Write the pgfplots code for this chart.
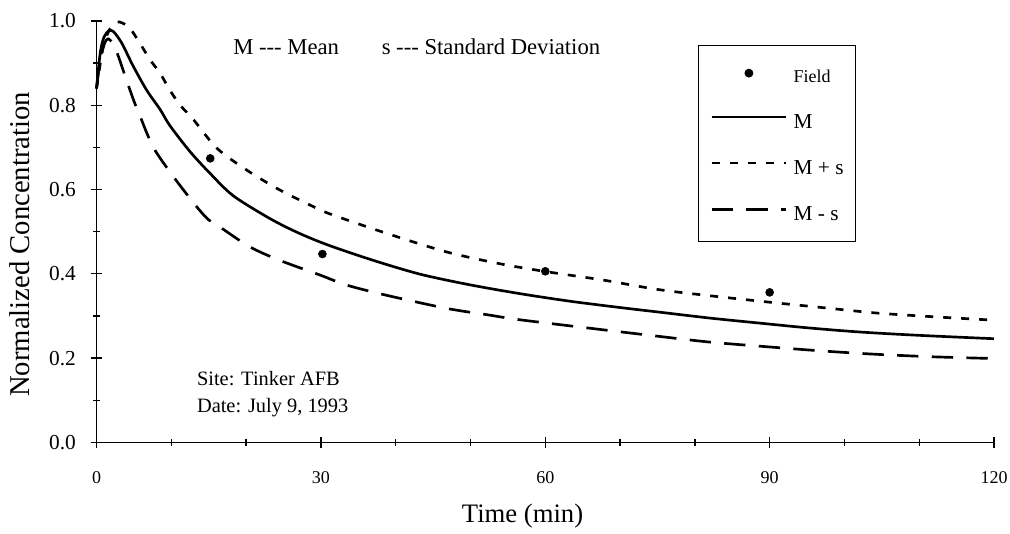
\documentclass[border=0pt]{standalone}
\usepackage{fontspec}
\setmainfont{Liberation Serif}
\usepackage{pgfplots}
\pgfplotsset{compat=1.18}
\usetikzlibrary{calc}
\pgfplotsset{
  lineleg/.style={legend image code/.code={\path (0pt,0pt) (56pt,8pt); \draw[##1] (0pt,4pt) -- (56pt,4pt);}},
  dotleg/.style={legend image code/.code={\path (0pt,0pt) (56pt,8pt); \draw[##1] plot coordinates {(28pt,2.5pt)};}},
}

\begin{document}
\begin{tikzpicture}
\begin{axis}[
  scale only axis,
  width=673pt, height=316pt,
  xmin=0, xmax=120, ymin=0, ymax=1.0,
  axis lines=left,
  axis line style={-, line width=1.3pt},
  clip=false,
  xtick={0,30,60,90,120},
  ytick={0,0.2,0.4,0.6,0.8,1.0},
  minor x tick num=2,
  minor y tick num=1,
  tick align=center,
  major tick length=8pt,
  minor tick length=5pt,
  tick style={line width=1pt, black},
  /pgf/number format/assume math mode=true,
  yticklabel style={/pgf/number format/fixed, /pgf/number format/fixed zerofill, /pgf/number format/precision=1, font=\fontsize{16}{18}\selectfont, xshift=-8pt},
  xticklabel style={font=\fontsize{13.5}{15}\selectfont, yshift=-14pt},
  xlabel={Time (min)},
  ylabel={Normalized Concentration},
  xlabel style={font=\fontsize{20}{24}\selectfont, at={(axis description cs:0.4747,-0.176)}, anchor=center},
  ylabel style={font=\fontsize{21.5}{24}\selectfont, at={(axis description cs:-0.0853,0.47)}, anchor=center},
  legend style={at={(axis cs:80.4,0.943)}, anchor=north west, draw=black, line width=0.6pt,
    inner xsep=9pt, inner ysep=15pt, row sep=20pt, column sep=4.5pt,
    font=\fontsize{16}{18}\selectfont,
    nodes={inner xsep=0pt, inner ysep=0pt, text height=10pt, text depth=1pt}},
  legend cell align=left,
]
\addplot[only marks, mark=*, mark size=3pt, black, dotleg]
  coordinates {(15.2,0.674) (30.2,0.447) (60,0.406) (90,0.356)};
\addlegendentry{\fontsize{13.5}{15}\selectfont Field}

\addplot[black, line width=2pt, smooth, tension=0.5, lineleg]
  coordinates {(0,0.84) (0.5,0.925) (1,0.962) (1.65,0.977) (2.25,0.975) (3,0.958) (3.6,0.94) (4.9,0.893) (6.7,0.836) (8.5,0.79) (9.8,0.752) (12.5,0.69) (15.2,0.638) (18.3,0.585) (23.2,0.531) (27,0.497) (31,0.468) (37,0.432) (43.3,0.399) (49.9,0.374) (56.6,0.353) (63.3,0.335) (70,0.320) (75.3,0.309) (82,0.295) (88.7,0.283) (95,0.272) (102,0.262) (110,0.254) (120,0.246)};
\addlegendentry{M}

\addplot[black, line width=2pt, dash pattern=on 6pt off 7.5pt, smooth, tension=0.5, lineleg]
  coordinates {(0,0.84) (0.8,0.93) (1.6,0.975) (2.6,0.997) (3.5,0.995) (4.5,0.982) (5.8,0.947) (7.2,0.907) (8.5,0.876) (9.8,0.836) (11.2,0.80) (13,0.765) (16.1,0.698) (20.1,0.646) (24.5,0.599) (29.4,0.556) (31.7,0.539) (38.8,0.496) (46.8,0.452) (53.9,0.424) (60.2,0.405) (67.8,0.385) (75,0.363) (82,0.348) (90.9,0.331) (97,0.32) (104.3,0.307) (112,0.298) (120,0.290)};
\addlegendentry{M + s}

\addplot[black, line width=2pt, dash pattern=on 16pt off 10pt, smooth, tension=0.5, lineleg]
  coordinates {(0,0.84) (0.6,0.92) (1.3,0.955) (1.8,0.955) (2.4,0.94) (3.1,0.907) (4,0.86) (5,0.81) (5.8,0.775) (7.6,0.70) (10.3,0.63) (13.4,0.559) (15,0.528) (16.5,0.511) (20.5,0.464) (24.5,0.432) (29.9,0.397) (33.5,0.373) (38.8,0.349) (46.8,0.318) (52.2,0.303) (56.6,0.291) (66.4,0.270) (75,0.252) (82,0.238) (89.6,0.227) (97,0.217) (104.3,0.209) (112,0.203) (120,0.199)};
\addlegendentry{M - s}

\node[anchor=west, inner xsep=0pt, font=\fontsize{17}{19}\selectfont] at (axis cs:18.25,0.938) {M -{}-{}- Mean};
\node[anchor=west, inner xsep=0pt, font=\fontsize{17}{19}\selectfont] at (axis cs:38.1,0.938) {s -{}-{}- Standard Deviation};
\node[anchor=west, inner xsep=0pt, font=\fontsize{15.3}{18}\selectfont] at (axis cs:13.4,0.152) {Site: Tinker AFB};
\node[anchor=west, inner xsep=0pt, font=\fontsize{15.3}{18}\selectfont] at (axis cs:13.4,0.083) {Date: July 9, 1993};
\end{axis}
\pgfresetboundingbox
\path ($(current axis.south west)+(-72.4pt,-68.25pt)$) rectangle ($(current axis.north east)+(12pt,15.75pt)$);
\end{tikzpicture}
\end{document}
